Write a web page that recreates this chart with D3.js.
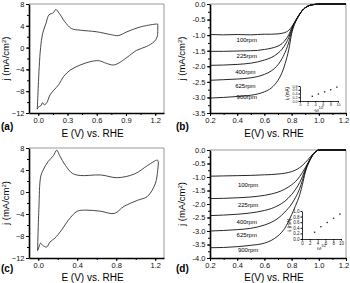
<!DOCTYPE html>
<html>
<head>
<meta charset="utf-8">
<script src="https://cdn.jsdelivr.net/npm/d3@7"></script>
<style>
  body { margin: 0; background: #fff; }
  text { font-family: "Liberation Sans", Arial, sans-serif; }
</style>
</head>
<body>
<svg id="fig" width="350" height="283"></svg>
<script>
// --- DATA ---
// CV loops, read point by point along the loop (E in V, j in mA/cm2)
const cvA_E = [-0.01, 0.01, 0.024, 0.045, 0.08, 0.11, 0.155, 0.18, 0.215, 0.27, 0.34, 0.43, 0.6, 0.74, 0.82, 0.91, 1.05, 1.2, 1.225,
               1.226, 1.22, 1.19, 1.11, 1.01, 0.91, 0.82, 0.77, 0.70, 0.62, 0.53, 0.43, 0.33, 0.26, 0.21, 0.16, 0.12, 0.085, 0.06, 0.045, 0.025, 0.0, -0.01];
const cvA_j = [-11.3, -3.5, 0, 2.6, 4.5, 6.0, 6.4, 7.0, 6.3, 4.8, 3.5, 3.2, 2.9, 2.4, 2.2, 2.9, 3.8, 4.3, 4.3,
               3.8, 2.0, 1.1, 0.2, -0.5, -1.8, -2.9, -3.2, -2.9, -2.4, -2.6, -3.2, -4.1, -5.3, -6.8, -7.8, -8.7, -10.2, -10.5, -10.1, -10.7, -10.9, -11.3];

const cvC_E = [-0.007, 0.007, 0.024, 0.05, 0.10, 0.155, 0.19, 0.22, 0.28, 0.35, 0.43, 0.64, 0.81, 0.99, 1.12, 1.22, 1.23,
               1.225, 1.2, 1.12, 1.02, 0.88, 0.78, 0.64, 0.50, 0.40, 0.31, 0.24, 0.17, 0.12, 0.087, 0.045, 0.024, 0.007, -0.007];
const cvC_j = [-10.6, -2.7, 2.7, 4.0, 5.5, 6.6, 7.6, 6.6, 4.8, 3.4, 3.0, 3.1, 2.6, 3.3, 4.8, 5.8, 5.6,
               3.9, 1.5, -0.8, -1.5, -2.6, -3.9, -3.5, -3.3, -3.5, -5.1, -6.9, -8.4, -9.1, -10.0, -9.7, -9.3, -10.0, -10.7];

const rpmLabels = ["100rpm", "225rpm", "400rpm", "625rpm", "900rpm"];

// LSV (b)
const lsvB_E = [0.2, 0.3, 0.4, 0.5, 0.55, 0.6, 0.65, 0.7, 0.73, 0.76, 0.78, 0.8, 0.82, 0.84, 0.86, 0.88, 0.9, 0.93, 0.96, 1.0, 1.1, 1.2];
const lsvB_j = [
  [-0.98, -0.99, -0.98, -0.99, -0.98, -0.97, -0.97, -0.96, -0.94, -0.90, -0.84, -0.74, -0.60, -0.45, -0.32, -0.20, -0.12, -0.05, -0.02, 0, 0, 0],
  [-1.52, -1.52, -1.51, -1.50, -1.49, -1.46, -1.42, -1.35, -1.27, -1.12, -0.98, -0.78, -0.61, -0.46, -0.32, -0.20, -0.12, -0.05, -0.02, 0, 0, 0],
  [-1.97, -1.96, -1.94, -1.90, -1.86, -1.80, -1.72, -1.58, -1.45, -1.25, -1.07, -0.82, -0.62, -0.46, -0.32, -0.20, -0.12, -0.05, -0.02, 0, 0, 0],
  [-2.45, -2.43, -2.41, -2.37, -2.33, -2.26, -2.15, -1.95, -1.75, -1.47, -1.22, -0.88, -0.64, -0.47, -0.32, -0.20, -0.12, -0.05, -0.02, 0, 0, 0],
  [-3.02, -3.00, -2.97, -2.93, -2.89, -2.82, -2.70, -2.45, -2.20, -1.80, -1.45, -0.96, -0.67, -0.48, -0.33, -0.20, -0.12, -0.05, -0.02, 0, 0, 0]
];
// Koutecky-Levich insets: omega^1/2 vs limiting current (mA)
const klB_w = [3.24, 4.85, 6.47, 8.09, 9.71];
const klB_i = [0.25, 0.37, 0.49, 0.60, 0.74];

// LSV (d)
const lsvD_E = [0.2, 0.3, 0.4, 0.5, 0.6, 0.65, 0.7, 0.75, 0.8, 0.83, 0.86, 0.88, 0.9, 0.92, 0.94, 0.96, 0.98, 1.0, 1.1, 1.2];
const lsvD_j = [
  [-0.97, -0.96, -0.95, -0.94, -0.92, -0.91, -0.89, -0.86, -0.80, -0.74, -0.65, -0.57, -0.47, -0.36, -0.24, -0.13, -0.05, 0, 0, 0],
  [-1.80, -1.79, -1.77, -1.74, -1.68, -1.63, -1.56, -1.45, -1.29, -1.16, -0.98, -0.83, -0.66, -0.48, -0.30, -0.15, -0.05, 0, 0, 0],
  [-2.43, -2.41, -2.38, -2.33, -2.24, -2.17, -2.06, -1.90, -1.65, -1.45, -1.20, -0.98, -0.72, -0.50, -0.31, -0.15, -0.05, 0, 0, 0],
  [-3.00, -2.98, -2.95, -2.90, -2.78, -2.68, -2.53, -2.30, -2.00, -1.75, -1.42, -1.12, -0.78, -0.52, -0.32, -0.15, -0.05, 0, 0, 0],
  [-3.62, -3.61, -3.58, -3.53, -3.45, -3.35, -3.18, -2.90, -2.40, -2.05, -1.65, -1.27, -0.84, -0.54, -0.33, -0.16, -0.05, 0, 0, 0]
];
const klD_w = [3.24, 4.85, 6.47, 8.09, 9.71];
const klD_i = [0.24, 0.44, 0.59, 0.74, 0.89];

const svg = d3.select("#fig");

// draws frame + axes for one panel, returns scales
function panel(p) {
  const x = d3.scaleLinear().domain(p.xDom).range([p.left, p.right]);
  const y = d3.scaleLinear().domain(p.yDom).range([p.bottom, p.top]);
  const g = svg.append("g");

  // gray top/right frame
  g.append("path")
    .attr("d", `M${p.left},${p.top}H${p.right}V${p.bottom}`)
    .attr("fill", "none").attr("stroke", "#999").attr("stroke-width", 1);

  // minor ticks first
  g.append("g").attr("transform", `translate(0,${p.bottom})`)
    .call(d3.axisBottom(x).tickValues(p.xMinor).tickSize(2).tickFormat(""))
    .call(a => a.select(".domain").remove());
  g.append("g").attr("transform", `translate(${p.left},0)`)
    .call(d3.axisLeft(y).tickValues(p.yMinor).tickSize(2).tickFormat(""))
    .call(a => a.select(".domain").remove());

  const ax = g.append("g").attr("transform", `translate(0,${p.bottom})`)
    .call(d3.axisBottom(x).tickValues(p.xTicks).tickSize(3).tickSizeOuter(0).tickPadding(1.5).tickFormat(p.xFmt));
  const ay = g.append("g").attr("transform", `translate(${p.left},0)`)
    .call(d3.axisLeft(y).tickValues(p.yTicks).tickSize(3).tickSizeOuter(0).tickPadding(1.5).tickFormat(p.yFmt));
  [ax, ay].forEach(a => {
    a.select(".domain").attr("stroke-width", 1.6);
    a.selectAll("text").attr("font-size", 7.5).attr("fill", "#111");
  });
  // keep the last x label inside the picture
  ax.selectAll(".tick text").filter((d, i, n) => i === n.length - 1 && x(d) > 340).attr("dx", -2.5);
  g.selectAll(".tick line").attr("stroke-width", 1);

  // x label + panel letter
  g.append("text").attr("x", (p.left + p.right) / 2 - 4).attr("y", p.xlabY)
    .attr("text-anchor", "middle").attr("font-size", 10).text(p.xLabel);
  g.append("text").attr("x", p.letterX).attr("y", p.letterY)
    .attr("font-size", 10).attr("font-weight", "bold").text(p.letter);

  // y label j (mA/cm2)
  const yl = g.append("text")
    .attr("transform", `translate(${p.ylabX},${(p.top + p.bottom) / 2}) rotate(-90)`)
    .attr("text-anchor", "middle").attr("font-size", 9.5);
  yl.append("tspan").text("j (mA/cm");
  yl.append("tspan").attr("font-size", 6).attr("dy", -3.5).text("2");
  yl.append("tspan").attr("dy", 3.5).text(")");
  return { x, y, g };
}

function inset(g, s) {
  const x = d3.scaleLinear().domain([0, 10]).range([s.left, s.right]);
  const y = d3.scaleLinear().domain([0, s.yMax]).range([s.bottom, s.top]);
  const ax = g.append("g").attr("transform", `translate(0,${s.bottom})`)
    .call(d3.axisBottom(x).tickValues([0, 2, 4, 6, 8, 10]).tickSize(1.5).tickSizeOuter(0).tickPadding(1).tickFormat(d3.format("d")));
  const ay = g.append("g").attr("transform", `translate(${s.left},0)`)
    .call(d3.axisLeft(y).tickValues(d3.range(0, s.yMax + 0.01, 0.2)).tickSize(1.5).tickSizeOuter(0).tickPadding(1).tickFormat(d => d.toFixed(1)));
  [ax, ay].forEach(a => {
    a.select(".domain").attr("stroke-width", 0.8);
    a.selectAll("text").attr("font-size", s.tickFont).attr("fill", "#222");
  });
  g.append("g").selectAll("rect")
    .data(s.w.map((w, i) => [w, s.i[i]]))
    .join("rect")
    .attr("x", d => x(d[0]) - 0.7).attr("y", d => y(d[1]) - 0.7)
    .attr("width", 1.4).attr("height", 1.4).attr("fill", "#333");
  const il = g.append("text")
    .attr("transform", `translate(${s.left - 11},${(s.top + s.bottom) / 2}) rotate(-90)`)
    .attr("text-anchor", "middle").attr("font-size", 4.5);
  il.append("tspan").text("i");
  il.append("tspan").attr("font-size", 3.5).attr("dy", 1.2).text("l");
  il.append("tspan").attr("dy", -1.2).text(" (mA)");
  const wl = g.append("text").attr("x", (s.left + s.right) / 2).attr("y", s.bottom + 10.5)
    .attr("text-anchor", "middle").attr("font-size", 5.5);
  wl.append("tspan").text("ω");
  wl.append("tspan").attr("font-size", 3.5).attr("dy", -2.5).text("1/2");
}

const line = (x, y) => d3.line().x(d => x(d[0])).y(d => y(d[1])).curve(d3.curveCatmullRom);

// --- (a) and (c): CV ---
const cvBase = {
  xDom: [-0.095, 1.29], yDom: [-12, 8],
  yTicks: [-12, -8, -4, 0, 4, 8], yMinor: d3.range(-12, 8.1, 2),
  xFmt: d => d.toFixed(1), yFmt: d3.format("d"), xLabel: "E (V) vs. RHE",
  ylabX: 9, letterX: 1
};
const pA = panel({ ...cvBase, left: 29, right: 164, top: 4, bottom: 113,
  xTicks: [0, 0.3, 0.6, 0.9, 1.2], xMinor: d3.range(0, 1.21, 0.15),
  xlabY: 137, letter: "(a)", letterY: 130 });
pA.g.append("path").datum(cvA_E.map((e, i) => [e, cvA_j[i]]))
  .attr("d", line(pA.x, pA.y)).attr("fill", "none").attr("stroke", "#333").attr("stroke-width", 0.9);

const pC = panel({ ...cvBase, left: 29, right: 164, top: 148, bottom: 258,
  xTicks: [0, 0.4, 0.8, 1.2], xMinor: d3.range(0, 1.21, 0.2),
  xlabY: 281, letter: "(c)", letterY: 272 });
pC.g.append("path").datum(cvC_E.map((e, i) => [e, cvC_j[i]]))
  .attr("d", line(pC.x, pC.y)).attr("fill", "none").attr("stroke", "#333").attr("stroke-width", 0.9);

// --- (b) and (d): LSV at different rotation rates ---
const lsvBase = {
  xDom: [0.2, 1.2], xTicks: d3.range(0.2, 1.21, 0.2), xMinor: d3.range(0.2, 1.21, 0.1),
  xFmt: d => d.toFixed(1), yFmt: d => d.toFixed(1), xLabel: "E(V) vs. RHE",
  ylabX: 185, letterX: 176, left: 210, right: 346
};
const pB = panel({ ...lsvBase, top: 4, bottom: 113, yDom: [-3.5, 0],
  yTicks: d3.range(-3.5, 0.01, 0.5), yMinor: d3.range(-3.5, 0.01, 0.25),
  xlabY: 137, letter: "(b)", letterY: 130 });
lsvB_j.forEach(js => {
  pB.g.append("path").datum(lsvB_E.map((e, i) => [e, js[i]]))
    .attr("d", line(pB.x, pB.y).curve(d3.curveMonotoneX)).attr("fill", "none").attr("stroke", "#111").attr("stroke-width", 0.9);
});
const labB_E = [0.47, 0.47, 0.46, 0.46, 0.47];
const labB_j = [-1.15, -1.68, -2.18, -2.62, -3.0];
pB.g.append("g").selectAll("text").data(rpmLabels).join("text")
  .attr("x", (d, i) => pB.x(labB_E[i])).attr("y", (d, i) => pB.y(labB_j[i]) + 2)
  .attr("text-anchor", "middle").attr("font-size", 6).text(d => d);
inset(pB.g, { left: 300, right: 338, top: 86, bottom: 101, yMax: 0.8, w: klB_w, i: klB_i, tickFont: 3.6 });

const pD = panel({ ...lsvBase, top: 150, bottom: 258, yDom: [-4, 0],
  yTicks: d3.range(-4, 0.01, 0.5), yMinor: d3.range(-4, 0.01, 0.25),
  xlabY: 281, letter: "(d)", letterY: 272 });
lsvD_j.forEach(js => {
  pD.g.append("path").datum(lsvD_E.map((e, i) => [e, js[i]]))
    .attr("d", line(pD.x, pD.y).curve(d3.curveMonotoneX)).attr("fill", "none").attr("stroke", "#111").attr("stroke-width", 0.9);
});
const labD_E = [0.48, 0.48, 0.47, 0.47, 0.48];
const labD_j = [-1.3, -2.05, -2.65, -3.15, -3.7];
pD.g.append("g").selectAll("text").data(rpmLabels).join("text")
  .attr("x", (d, i) => pD.x(labD_E[i])).attr("y", (d, i) => pD.y(labD_j[i]) + 2)
  .attr("text-anchor", "middle").attr("font-size", 6).text(d => d);
inset(pD.g, { left: 302, right: 341, top: 211, bottom: 239, yMax: 1.0, w: klD_w, i: klD_i, tickFont: 4.5 });
</script>
</body>
</html>
